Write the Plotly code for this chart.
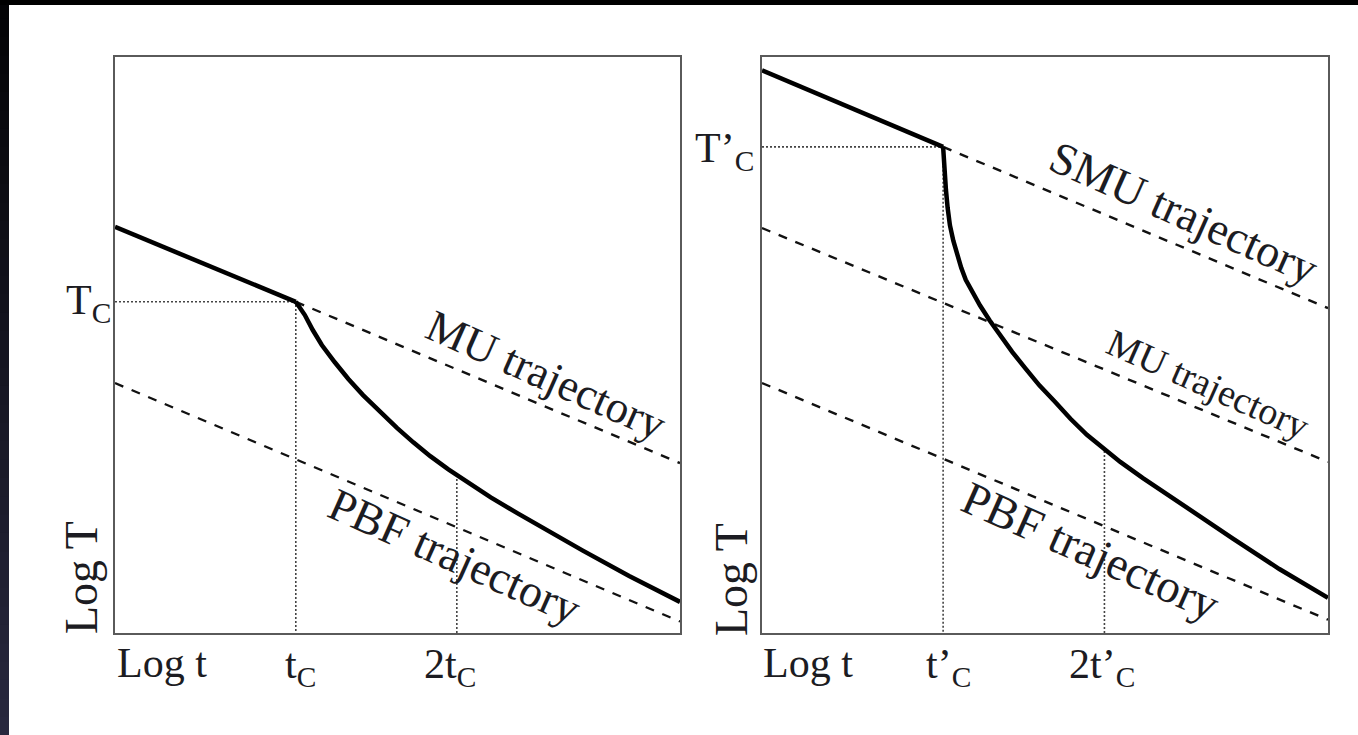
import numpy as np
import plotly.graph_objects as go
from plotly.subplots import make_subplots

# ---- data (log t on x, log T on y; both axes span 0..10) ----
t_c = 3.2
two_t_c = 6.05

# left panel: MU cooling then relaxation onto the PBF track
left_pre_x = [0.0, 3.2]
left_pre_y = [7.05, 5.75]
left_mu_x = [3.2, 10.0]
left_mu_y = [5.75, 2.95]
left_pbf_x = [0.0, 10.0]
left_pbf_y = [4.34, 0.20]
left_curve_x = [3.20, 3.28, 3.36, 3.50, 3.66, 3.89, 4.13, 4.39, 4.69, 4.99, 5.28, 5.58, 5.90, 6.23, 6.65, 7.12, 7.68, 8.28, 9.10, 10.0]
left_curve_y = [5.75, 5.65, 5.52, 5.26, 5.00, 4.70, 4.41, 4.13, 3.84, 3.56, 3.31, 3.07, 2.84, 2.62, 2.355, 2.08, 1.76, 1.43, 0.99, 0.54]

# right panel: SMU cooling then fast drop
right_pre_x = [0.0, 3.2]
right_pre_y = [9.77, 8.44]
right_smu_x = [3.2, 10.0]
right_smu_y = [8.44, 5.64]
right_mu_x = [0.0, 10.0]
right_mu_y = [7.03, 2.97]
right_pbf_x = [0.0, 10.0]
right_pbf_y = [4.34, 0.23]
right_curve_x = [3.20, 3.22, 3.25, 3.28, 3.32, 3.38, 3.45, 3.52, 3.60, 3.72, 3.85, 4.02, 4.20, 4.42, 4.65, 4.90, 5.18, 5.45, 5.74, 6.03, 6.33, 6.73, 7.16, 7.72, 8.32, 9.14, 10.0]
right_curve_y = [8.44, 8.05, 7.69, 7.38, 7.08, 6.81, 6.56, 6.34, 6.13, 5.90, 5.69, 5.43, 5.17, 4.88, 4.60, 4.30, 4.01, 3.72, 3.44, 3.20, 2.97, 2.69, 2.40, 2.03, 1.64, 1.11, 0.61]

W, H = 1358, 735
SERIF = "Liberation Serif"
INK = "#1c1c22"

fig = make_subplots(rows=1, cols=2)

solid = dict(color="#000000", width=4.5)
dashed = dict(color="#111111", width=2.4, dash="9px,9px")
dotted = dict(color="#444444", width=1.6, dash="2px,2px")


def add_panel(col, pre_x, pre_y, curve_x, curve_y, dashes, tc_val):
    # guide lines at the break point and at twice that time
    y_2tc = float(np.interp(two_t_c, curve_x, curve_y))
    fig.add_trace(go.Scatter(x=[0, t_c, t_c], y=[tc_val, tc_val, 0], mode="lines",
                             line=dotted, hoverinfo="skip"), row=1, col=col)
    fig.add_trace(go.Scatter(x=[two_t_c, two_t_c], y=[0, y_2tc], mode="lines",
                             line=dotted, hoverinfo="skip"), row=1, col=col)
    for dx, dy in dashes:
        fig.add_trace(go.Scatter(x=dx, y=dy, mode="lines", line=dashed,
                                 hoverinfo="skip"), row=1, col=col)
    fig.add_trace(go.Scatter(x=pre_x, y=pre_y, mode="lines", line=solid,
                             hoverinfo="skip"), row=1, col=col)
    fig.add_trace(go.Scatter(x=curve_x, y=curve_y, mode="lines", line=solid,
                             hoverinfo="skip"), row=1, col=col)


add_panel(1, left_pre_x, left_pre_y, left_curve_x, left_curve_y,
          [(left_mu_x, left_mu_y), (left_pbf_x, left_pbf_y)], left_pre_y[1])
add_panel(2, right_pre_x, right_pre_y, right_curve_x, right_curve_y,
          [(right_smu_x, right_smu_y), (right_mu_x, right_mu_y), (right_pbf_x, right_pbf_y)],
          right_pre_y[1])

ax_common = dict(range=[0, 10], showgrid=False, zeroline=False, showticklabels=False,
                 ticks="", showline=True, mirror=True, linecolor="#5a5a5a", linewidth=2)
ydom = [1 - 633 / H, 1 - 57 / H]
fig.update_layout(
    xaxis=dict(ax_common, domain=[115 / W, 680 / W]),
    xaxis2=dict(ax_common, domain=[762 / W, 1328 / W]),
    yaxis=dict(ax_common, domain=ydom),
    yaxis2=dict(ax_common, domain=ydom),
)


def px(x):
    return x / W


def py(y):
    return 1 - y / H


labels = [
    # text, x, y, size, angle
    ("Log t", 162, 663, 42, 0),
    ("t<sub>C</sub>", 300, 667, 42, 0),
    ("2t<sub>C</sub>", 450, 667, 42, 0),
    ("Log t", 808, 663, 42, 0),
    ("t’<sub>C</sub>", 948, 667, 42, 0),
    ("2t’<sub>C</sub>", 1102, 667, 42, 0),
    ("Log T", 81, 578, 46, -90),
    ("Log T", 731, 580, 46, -90),
    ("T<sub>C</sub>", 88, 303, 42, 0),
    ("T’<sub>C</sub>", 724, 151, 42, 0),
    ("MU trajectory", 546, 375, 45, 24),
    ("PBF trajectory", 455, 556, 46, 24),
    ("SMU trajectory", 1183, 213, 46, 24),
    ("MU trajectory", 1208, 384, 38, 24),
    ("PBF trajectory", 1091, 551, 47, 24),
]
annotations = []
for text, x, y, size, ang in labels:
    annotations.append(dict(text=text, x=px(x), y=py(y), xref="paper", yref="paper",
                            xanchor="center", yanchor="middle", showarrow=False,
                            textangle=ang, font=dict(family=SERIF, size=size, color=INK)))

# dark frame strips along the top and left edges
shapes = []
n = 40
top_rgb = np.array([4, 4, 6])
bot_rgb = np.array([40, 40, 62])
for i in range(n):
    f = i / (n - 1)
    r, g, b = (top_rgb + (bot_rgb - top_rgb) * f).astype(int)
    shapes.append(dict(type="rect", xref="paper", yref="paper", x0=0, x1=9 / W,
                       y0=max(0.0, 1 - (i + 1) / n - 0.004), y1=1 - i / n,
                       fillcolor=f"rgb({r},{g},{b})", line=dict(width=0), layer="above"))
shapes.append(dict(type="rect", xref="paper", yref="paper", x0=0, x1=1, y0=1 - 5 / H, y1=1,
                   fillcolor="#000000", line=dict(width=0), layer="above"))

fig.update_layout(
    width=W, height=H, margin=dict(l=0, r=0, t=0, b=0),
    paper_bgcolor="white", plot_bgcolor="white", showlegend=False,
    annotations=annotations, shapes=shapes,
)

fig.write_html("out.html")
